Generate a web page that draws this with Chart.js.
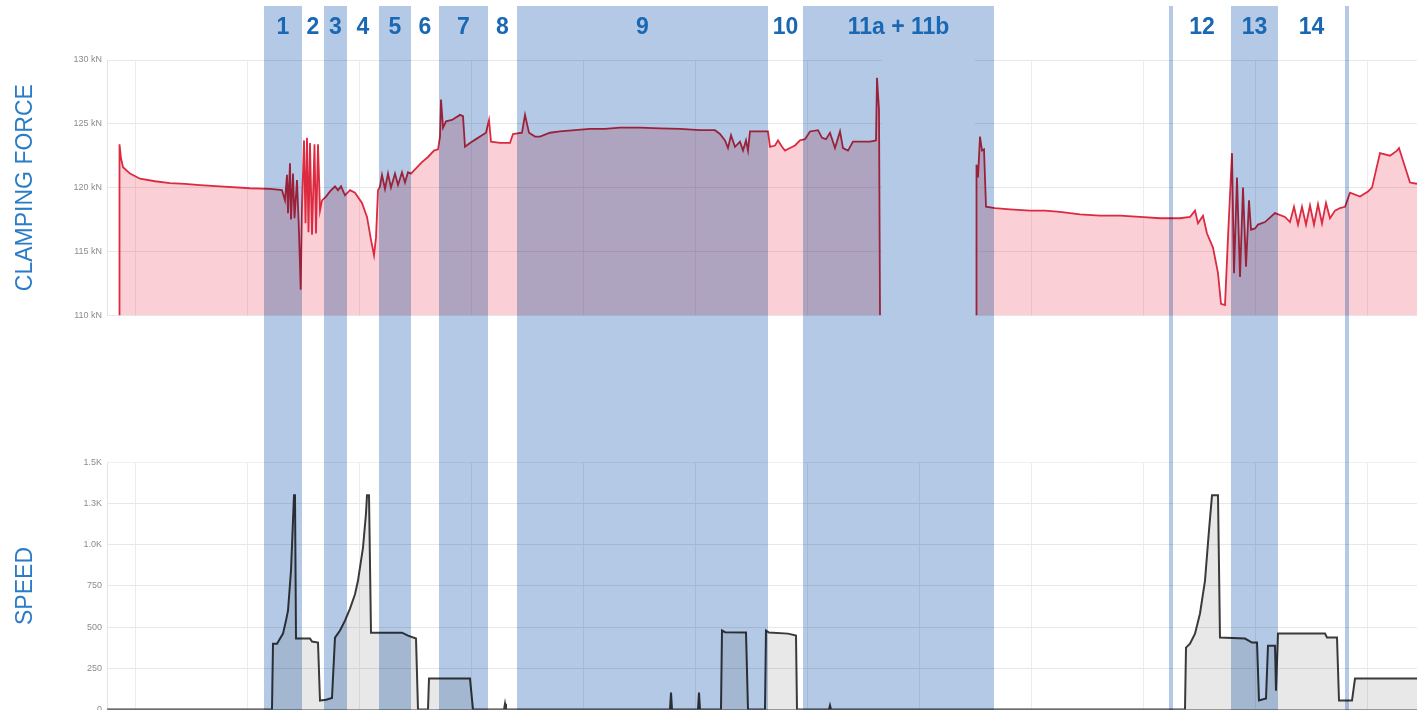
<!DOCTYPE html>
<html>
<head>
<meta charset="utf-8">
<script src="https://cdn.jsdelivr.net/npm/chart.js@4/dist/chart.umd.min.js"></script>
<style>
  html, body { margin: 0; padding: 0; background: #fff; overflow: hidden; }
  #wrap { width: 1417px; height: 710px; overflow: hidden; }
</style>
</head>
<body>
<div id="wrap"><canvas id="cycle" width="1417" height="720"></canvas></div>
<script>
// time axis in seconds
var forceT = [1.2, 1.25, 1.4, 1.6, 2.3, 3.3, 4.8, 6.3, 7.8, 9.3, 11.3, 14.3, 16.3, 17.5, 17.8, 18.0, 18.1, 18.3, 18.4, 18.6,
  18.75, 19.0, 19.2, 19.37, 19.5, 19.7, 19.85, 20.0, 20.15, 20.3, 20.5, 20.75, 20.9, 21.1, 21.3, 21.5, 21.9, 22.3, 22.8, 23.1,
  23.4, 23.8, 24.3, 24.8, 25.5, 26.0, 26.4, 26.7, 26.9, 27.1, 27.3, 27.5, 27.8, 28.1, 28.4, 28.8, 29.1, 29.5, 29.8, 30.1,
  30.4, 30.9, 31.5, 32.1, 32.7, 33.1, 33.3, 33.4, 33.6, 33.9, 34.5, 35.3, 35.6, 35.8, 36.3, 36.9, 37.5, 37.9, 38.2, 38.4,
  39.3, 40.3, 40.6, 41.5, 41.8, 42.2, 42.8, 43.3, 44.3, 45.3, 46.8, 48.3, 49.8, 51.3, 53.3, 55.3, 57.3, 59.3, 60.8, 61.3,
  61.8, 62.1, 62.4, 62.8, 63.3, 63.6, 63.9, 64.1, 64.3, 66.1, 66.3, 66.8, 67.1, 67.5, 67.8, 68.3, 68.8, 69.3, 69.8, 70.3,
  71.1, 71.5, 71.9, 72.3, 72.8, 73.3, 73.6, 74.1, 74.6, 75.5, 76.3, 76.9, 77.0, 77.2, 77.3,
  82.0,
  86.9, 86.95, 87.1, 87.3, 87.5, 87.7, 87.9, 88.8, 90.3, 92.3, 93.8, 95.3, 97.3, 99.3, 101.3, 103.3, 105.3, 107.3, 108.3, 108.8,
  109.1, 109.6, 110.0, 110.6, 111.1, 111.4, 111.8, 112.1, 112.5, 112.7, 113.0, 113.3, 113.6, 113.9, 114.2, 114.4, 114.8, 115.1, 115.8, 116.8,
  117.8, 118.3, 118.7, 119.1, 119.5, 119.9, 120.3, 120.7, 121.1, 121.5, 121.9, 122.3, 122.8, 123.3, 123.8, 124.3, 125.3, 126.1, 126.5, 127.3, 128.3,
  129.0, 129.2, 130.3, 131.0];
var forceKN = [110, 123.4, 122.3, 121.6, 121.1, 120.7, 120.5, 120.35, 120.3, 120.2, 120.1, 119.95, 119.9, 119.8, 119.0, 121.0, 118.0, 121.9, 117.5, 121.1,
  117.6, 120.6, 116.5, 112.0, 118.5, 123.7, 117.2, 123.9, 116.5, 123.5, 116.3, 123.4, 116.4, 123.4, 118.2, 119.0, 119.3, 119.7, 120.1, 119.8,
  120.1, 119.4, 119.8, 119.6, 118.8, 117.7, 115.9, 114.7, 116.1, 119.8, 120.1, 121.0, 119.9, 121.1, 120.0, 121.1, 120.2, 121.2, 120.4, 121.2,
  121.1, 121.5, 122.0, 122.4, 122.9, 123.0, 124.0, 126.9, 124.7, 125.2, 125.3, 125.7, 125.6, 123.2, 123.5, 123.8, 124.1, 124.3, 125.3, 123.6,
  123.5, 123.5, 124.2, 124.3, 125.7, 124.3, 124.0, 124.0, 124.3, 124.4, 124.5, 124.6, 124.6, 124.7, 124.7, 124.65, 124.6, 124.5, 124.5, 124.2,
  123.7, 123.1, 124.1, 123.2, 123.6, 122.9, 123.7, 122.9, 124.4, 124.4, 123.2, 123.3, 123.7, 123.2, 122.9, 123.1, 123.3, 123.7, 123.8, 124.4,
  124.5, 123.9, 123.8, 124.3, 123.1, 124.4, 123.1, 122.9, 123.6, 123.6, 123.6, 123.7, 128.6, 126.1, 110,
  null,
  110, 121.8, 120.8, 124.0, 122.9, 123.0, 118.5, 118.4, 118.3, 118.2, 118.2, 118.1, 117.9, 117.8, 117.8, 117.7, 117.6, 117.6, 117.7, 118.2,
  117.2, 117.8, 116.4, 115.3, 113.3, 110.9, 110.8, 116.1, 122.7, 113.3, 120.8, 113.0, 120.0, 113.8, 119.0, 116.7, 116.8, 117.1, 117.3, 118.0,
  117.7, 117.3, 118.5, 117.1, 118.5, 117.1, 118.6, 117.1, 118.7, 117.2, 118.8, 117.6, 118.2, 118.4, 118.5, 119.6, 119.3, 119.7, 120.0, 122.7, 122.5, 122.9,
  123.1, 120.4, 120.3, 120.3];
var forceMissing = [77.5, 86.8];

var speedT = [0, 16.5, 16.6, 17.0, 17.6, 17.9, 18.1, 18.4, 18.6, 18.7, 18.8, 18.9, 20.3, 20.5, 21.1, 21.3, 21.9, 22.5, 22.8, 23.3,
  23.8, 24.3, 24.8, 25.1, 25.6, 25.9, 26.0, 26.2, 26.4, 29.5, 30.1, 30.9, 31.1, 32.1, 32.2, 36.3, 36.6, 39.7, 39.8, 39.9,
  56.3, 56.4, 56.5, 59.1, 59.2, 59.3, 61.4, 61.5, 61.8, 63.9, 64.1, 65.8, 65.9, 66.2, 68.1, 68.9, 69.0, 72.2, 72.3, 72.4,
  107.8, 107.9, 108.3, 108.8, 109.3, 109.8, 110.2, 110.5, 111.1, 111.3, 113.8, 114.5, 115.0, 115.2, 115.9, 116.1, 116.8, 116.9, 117.1, 121.8,
  122.0, 123.0, 123.2, 124.5, 124.8, 131.0];
var speedRPM = [0, 0, 400, 400, 461, 540, 600, 844, 1147, 1300, 1300, 431, 431, 413, 407, 55, 60, 70, 437, 480,
  540, 613, 700, 783, 983, 1190, 1300, 1300, 467, 467, 449, 431, 0, 0, 188, 188, 0, 0, 36, 0,
  0, 103, 0, 0, 103, 0, 0, 480, 470, 468, 0, 0, 480, 468, 461, 449, 0, 0, 25, 0,
  0, 376, 400, 461, 583, 783, 1087, 1300, 1300, 437, 431, 407, 407, 55, 67, 388, 388, 115, 461, 461,
  437, 437, 55, 55, 188, 188];

// process steps
var phaseStart = [15.7, 19.5, 21.7, 24.0, 27.2, 30.4, 33.2, 38.1, 41.0, 66.1, 69.6, 88.7, 106.2, 106.6, 112.4, 117.1, 123.8];
var phaseEnd   = [19.5, 21.7, 24.0, 27.2, 30.4, 33.2, 38.1, 41.0, 66.1, 69.6, 88.7, 106.2, 106.6, 112.4, 117.1, 123.8, 124.2];
var phaseLabel = ['1', '2', '3', '4', '5', '6', '7', '8', '9', '10', '11a + 11b', '', '', '12', '13', '14', ''];
var phaseShaded = [1, 0, 1, 0, 1, 0, 1, 0, 1, 0, 1, 0, 1, 0, 1, 0, 1];

var forceTickLabels = ['110 kN', '115 kN', '120 kN', '125 kN', '130 kN'];
var speedTickLabels = ['0', '250', '500', '750', '1.0K', '1.3K', '1.5K'];

var gridTimes = [];
for (var g = 2.8; g < 131; g += 11.2) gridTimes.push(g);

function points(xs, ys) {
  var out = [];
  for (var i = 0; i < xs.length; i++) out.push({ x: xs[i], y: ys[i] });
  return out;
}

var phasePlugin = {
  id: 'phases',
  beforeDatasetsDraw: function(chart) {
    var ctx = chart.ctx, a = chart.chartArea, s = chart.scales;
    ctx.save();
    ctx.fillStyle = '#fff';
    // space between the two panels
    ctx.fillRect(a.left - 1, s.yForce.bottom + 1, a.right - a.left + 2, s.ySpeed.top - s.yForce.bottom - 1);
    // no force record here
    var g0 = s.x.getPixelForValue(forceMissing[0]);
    var g1 = s.x.getPixelForValue(forceMissing[1]);
    ctx.fillRect(g0, s.yForce.top - 10, g1 - g0, s.yForce.bottom - s.yForce.top + 11);
    ctx.restore();
  },
  afterDraw: function(chart) {
    var ctx = chart.ctx, x = chart.scales.x;
    var o = chart.options.plugins.phases;
    ctx.save();
    ctx.globalCompositeOperation = 'multiply';
    ctx.fillStyle = o.color;
    for (var i = 0; i < phaseStart.length; i++) {
      if (!phaseShaded[i]) continue;
      var l = x.getPixelForValue(phaseStart[i]);
      var r = x.getPixelForValue(phaseEnd[i]);
      ctx.fillRect(l, o.top, r - l, chart.height - o.top);
    }
    ctx.globalCompositeOperation = 'source-over';
    ctx.fillStyle = o.labelColor;
    ctx.font = o.font;
    ctx.textAlign = 'center';
    ctx.textBaseline = 'middle';
    for (var j = 0; j < phaseStart.length; j++) {
      if (!phaseLabel[j]) continue;
      var c = x.getPixelForValue((phaseStart[j] + phaseEnd[j]) / 2);
      ctx.fillText(phaseLabel[j], c, o.labelY);
    }
    ctx.restore();
  }
};

var tickFont = { family: '"Liberation Sans", Arial, sans-serif', size: 9 };
var titleFont = { family: '"Liberation Sans", Arial, sans-serif', size: 23 };

var chart = new Chart(document.getElementById('cycle'), {
  type: 'line',
  data: {
    datasets: [
      {
        label: 'Clamping force',
        data: points(forceT, forceKN),
        yAxisID: 'yForce',
        borderColor: '#dc2a40',
        backgroundColor: 'rgba(230,40,70,0.22)',
        borderWidth: 1.8,
        fill: { value: 110 },
        pointRadius: 0,
        tension: 0,
        spanGaps: false
      },
      {
        label: 'Speed',
        data: points(speedT, speedRPM),
        yAxisID: 'ySpeed',
        borderColor: '#3a3a3a',
        backgroundColor: 'rgba(0,0,0,0.09)',
        borderWidth: 2,
        fill: 'origin',
        pointRadius: 0,
        tension: 0
      }
    ]
  },
  options: {
    responsive: false,
    animation: false,
    layout: { autoPadding: false, padding: { top: 60, left: 12, right: 0, bottom: 1 } },
    plugins: {
      legend: { display: false },
      tooltip: { enabled: false },
      phases: {
        color: '#b3c9e5',
        top: 6,
        labelY: 28,
        labelColor: '#1a68b3',
        font: 'bold 23px "Liberation Sans", Arial, sans-serif'
      }
    },
    scales: {
      x: {
        type: 'linear',
        min: 0,
        max: 131,
        afterBuildTicks: function(s) {
          s.ticks = gridTimes.map(function(v) { return { value: v }; });
        },
        ticks: { display: false },
        grid: { color: '#ececec', drawTicks: false },
        border: { color: '#9a9a9a' }
      },
      yForce: {
        position: 'left',
        stack: 'panels',
        stackWeight: 255,
        weight: 3,
        min: 110,
        max: 130,
        afterFit: function(s) { s.width = 95; },
        ticks: {
          stepSize: 5,
          font: tickFont,
          color: '#8c8c8c',
          padding: 5,
          callback: function(v, i) { return forceTickLabels[i]; }
        },
        grid: { color: '#e8e8e8', drawTicks: false },
        border: { color: '#e4e4e4' },
        title: { display: true, text: 'CLAMPING FORCE', color: '#2a7cc7', font: titleFont, padding: { top: 0, bottom: 0 } }
      },
      yGap: {
        position: 'left',
        stack: 'panels',
        stackWeight: 147,
        weight: 2,
        min: 0,
        max: 1,
        afterFit: function(s) { s.width = 95; },
        ticks: { display: false },
        grid: { display: false },
        border: { display: false }
      },
      ySpeed: {
        position: 'left',
        stack: 'panels',
        stackWeight: 247,
        weight: 1,
        min: 0,
        max: 1500,
        afterFit: function(s) { s.width = 95; },
        ticks: {
          stepSize: 250,
          font: tickFont,
          color: '#8c8c8c',
          padding: 5,
          callback: function(v, i) { return speedTickLabels[i]; }
        },
        grid: { color: '#e8e8e8', drawTicks: false },
        border: { color: '#e4e4e4' },
        title: { display: true, text: 'SPEED', color: '#2a7cc7', font: titleFont, padding: { top: 0, bottom: 0 } }
      }
    }
  },
  plugins: [phasePlugin]
});
</script>
</body>
</html>
